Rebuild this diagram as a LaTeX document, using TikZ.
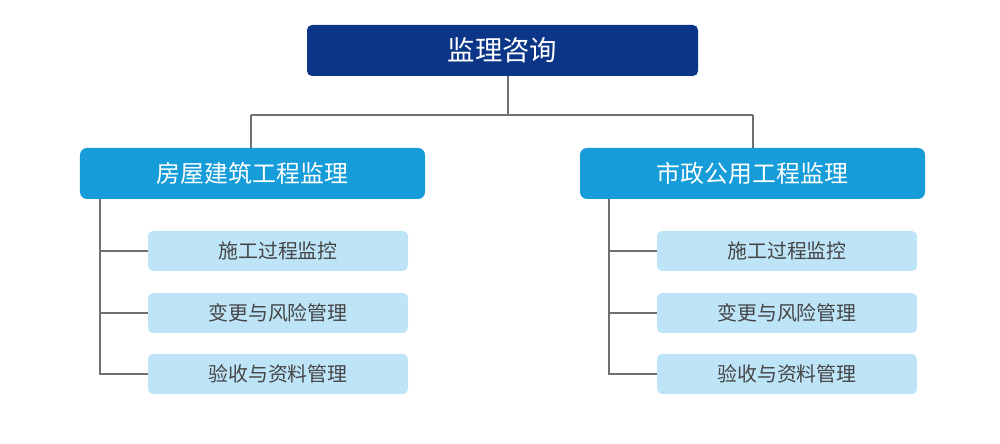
\documentclass[tikz,border=0pt]{standalone}
\usepackage{fontspec}
\setmainfont{Noto Sans CJK SC}
\newfontfamily\cjk{Noto Sans CJK SC}
\definecolor{navy}{HTML}{0B3587}
\definecolor{midblue}{HTML}{159CD9}
\definecolor{leafblue}{HTML}{BEE4F8}
\definecolor{leaftext}{HTML}{454545}
\definecolor{linegray}{HTML}{707070}
\begin{document}
\begin{tikzpicture}[x=1bp,y=-1bp,
  topbox/.style={fill=navy,rounded corners=5bp,minimum width=391bp,minimum height=51bp,inner sep=0pt,text=white,font=\cjk\fontsize{27.5}{30}\selectfont},
  midbox/.style={fill=midblue,rounded corners=7bp,minimum width=345bp,minimum height=51bp,inner sep=0pt,text=white,font=\cjk\fontsize{24}{27}\selectfont},
  leafbox/.style={fill=leafblue,rounded corners=5bp,minimum width=260bp,minimum height=40bp,inner sep=0pt,text=leaftext,font=\cjk\fontsize{20}{23}\selectfont},
  conn/.style={draw=linegray,line width=1.6bp}]
\useasboundingbox (0,0) rectangle (1000,444);
\node[topbox] (top) at (502.5,50.5) {监理咨询};
\node[midbox] (L) at (252.5,173.5) {房屋建筑工程监理};
\node[midbox] (R) at (752.5,173.5) {市政公用工程监理};
\node[leafbox] (L1) at (278,251) {施工过程监控};
\node[leafbox] (L2) at (278,313) {变更与风险管理};
\node[leafbox] (L3) at (278,374) {验收与资料管理};
\node[leafbox] (R1) at (787,251) {施工过程监控};
\node[leafbox] (R2) at (787,313) {变更与风险管理};
\node[leafbox] (R3) at (787,374) {验收与资料管理};
\coordinate (J) at (508,115);
\draw[conn] (top.south -| J) -- (J);
\draw[conn] (J -| 251,0) -- (J -| 753,0);
\draw[conn] (251,115) -- (251,148);
\draw[conn] (753,115) -- (753,148);
\draw[conn] (100,199) -- (100,374) -- (L3.west);
\draw[conn] (100,251) -- (L1.west);
\draw[conn] (100,313) -- (L2.west);
\draw[conn] (609,199) -- (609,374) -- (R3.west);
\draw[conn] (609,251) -- (R1.west);
\draw[conn] (609,313) -- (R2.west);
\end{tikzpicture}
\end{document}
